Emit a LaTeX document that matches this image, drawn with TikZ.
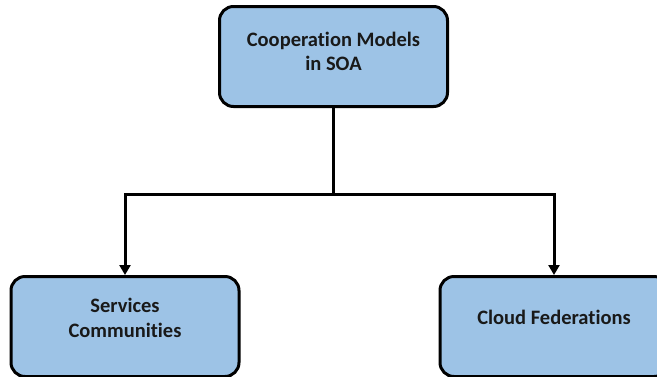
\documentclass[tikz,border=0pt]{standalone}
\usepackage{fontspec}
\setmainfont{Carlito}[Ligatures=NoCommon]
\usetikzlibrary{arrows.meta}
\definecolor{boxblue}{HTML}{9DC3E6}
\tikzset{
  box/.style={draw=black, line width=3pt, rounded corners=14pt, fill=boxblue,
    minimum width=228pt, minimum height=100pt, inner sep=0pt},
  lbl/.style={font=\bfseries\fontsize{20.5}{24.5}\selectfont, align=center, text=black!90},
  link/.style={line width=3pt, draw=black},
  arrowlink/.style={link, -{Triangle[width=11pt,length=10pt]}}
}
\begin{document}
\begin{tikzpicture}[x=1pt, y=-1pt]
  \useasboundingbox (0,0) rectangle (657,376);
  \clip (0,0) rectangle (657,376);
  % boxes
  \node[box] (top) at (333.5,56.5) {};
  \node[box] (sc) at (125,326.5) {};
  \node[box] (cf) at (554,326.5) {};
  % labels
  \node[lbl] (toplbl) at ([yshift=5pt]top.center) {Cooperation Models\\in SOA};
  \node[lbl] (sclbl) at ([yshift=8.5pt]sc.center) {Services\\Communities};
  \node[lbl] (cflbl) at ([yshift=9pt]cf.center) {Cloud Federations};
  % connectors
  \coordinate (split) at (333.5,194);
  \draw[link] (top.south) -- (split);
  \draw[arrowlink] (split) -| (sc.north);
  \draw[arrowlink] (split) -| (cf.north);
\end{tikzpicture}
\end{document}
